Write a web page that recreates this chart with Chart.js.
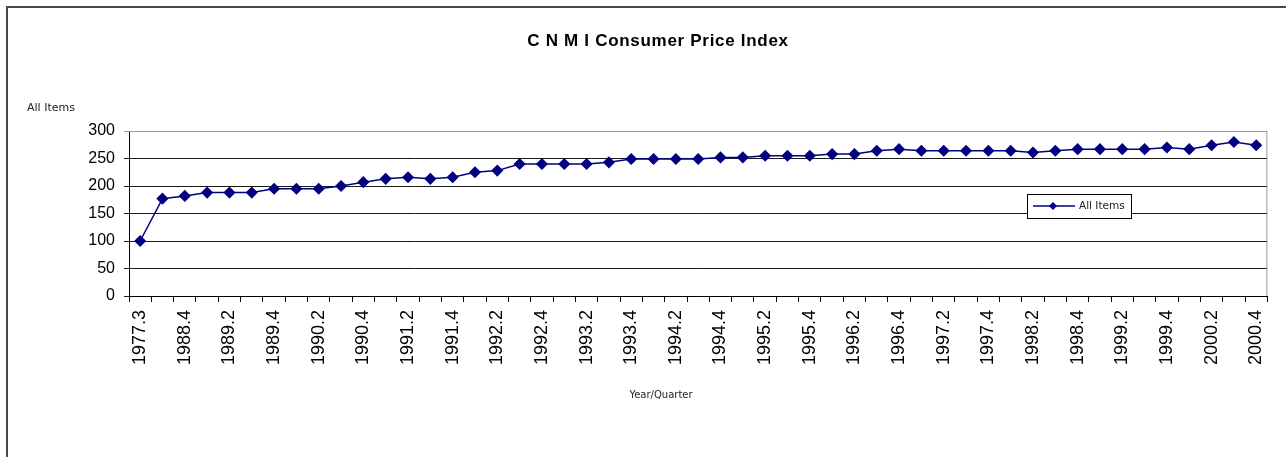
<!DOCTYPE html>
<html>
<head>
<meta charset="utf-8">
<script src="https://cdn.jsdelivr.net/npm/chart.js@4/dist/chart.umd.min.js"></script>
<style>
  html, body { margin: 0; padding: 0; background: #fff; }
  #wrap { position: relative; width: 1286px; height: 457px; overflow: hidden; }
  #frame { position: absolute; left: 6px; top: 6px; width: 1300px; height: 470px;
           border-left: 2px solid #4a4a4a; border-top: 2px solid #4a4a4a; }
  canvas { position: absolute; left: 0; top: 0; }
</style>
</head>
<body>
<div id="wrap">
  <div id="frame"></div>
  <canvas id="cpi" width="1286" height="457"></canvas>
</div>
<script>
// Data
const quarters = [
  '1977.3', '1988.3', '1988.4',
  '1989.1', '1989.2', '1989.3', '1989.4',
  '1990.1', '1990.2', '1990.3', '1990.4',
  '1991.1', '1991.2', '1991.3', '1991.4',
  '1992.1', '1992.2', '1992.3', '1992.4',
  '1993.1', '1993.2', '1993.3', '1993.4',
  '1994.1', '1994.2', '1994.3', '1994.4',
  '1995.1', '1995.2', '1995.3', '1995.4',
  '1996.1', '1996.2', '1996.3', '1996.4',
  '1997.1', '1997.2', '1997.3', '1997.4',
  '1998.1', '1998.2', '1998.3', '1998.4',
  '1999.1', '1999.2', '1999.3', '1999.4',
  '2000.1', '2000.2', '2000.3', '2000.4'
];
const allItems = [
  100, 177, 182, 188, 188, 188, 195, 195, 195, 200, 207,
  213, 216, 213, 216, 225, 228, 240, 240, 240, 240,
  243, 249, 249, 249, 249, 252, 252, 255, 255, 255,
  258, 258, 264, 267, 264, 264, 264, 264, 264, 261,
  264, 267, 267, 267, 267, 270, 267, 274, 280, 274
];
const yTicks = [0, 50, 100, 150, 200, 250, 300];

const chartTitle = 'C N M I Consumer Price Index';
const yTitle = 'All Items';
const xTitle = 'Year/Quarter';
const seriesName = 'All Items';

const navy = '#000080';
const arial = '"Liberation Sans", Arial, sans-serif';
const small = '"DejaVu Sans", Verdana, sans-serif';

// Texts, plot frame and legend drawn like the Excel original
const decorations = {
  id: 'decorations',
  afterDraw(chart) {
    const { ctx, chartArea: a } = chart;
    ctx.save();
    // plot area frame (top + right, grey)
    ctx.strokeStyle = '#9a9a9a';
    ctx.lineWidth = 1;
    ctx.beginPath();
    ctx.moveTo(a.left, a.top + 0.5);
    ctx.lineTo(a.right - 0.5, a.top + 0.5);
    ctx.lineTo(a.right - 0.5, a.bottom);
    ctx.stroke();

    ctx.fillStyle = '#000';
    ctx.textAlign = 'center';
    ctx.textBaseline = 'alphabetic';
    ctx.font = 'bold 17px ' + arial;
    ctx.letterSpacing = '0.7px';
    ctx.fillText(chartTitle, 658, 46);
    ctx.letterSpacing = '0px';

    ctx.fillStyle = '#222';
    ctx.font = '11px ' + small;
    ctx.textAlign = 'left';
    ctx.fillText(yTitle, 27, 111);
    ctx.font = '10px ' + small;
    ctx.textAlign = 'center';
    ctx.fillText(xTitle, 661, 398);

    // legend
    const lx = 1027, ly = 194, lw = 104, lh = 24;
    ctx.fillStyle = '#fff';
    ctx.fillRect(lx, ly, lw, lh);
    ctx.strokeStyle = '#000';
    ctx.lineWidth = 1;
    ctx.strokeRect(lx + 0.5, ly + 0.5, lw, lh);
    const my = ly + lh / 2;
    ctx.strokeStyle = navy;
    ctx.lineWidth = 1.5;
    ctx.beginPath();
    ctx.moveTo(lx + 6, my);
    ctx.lineTo(lx + 48, my);
    ctx.stroke();
    ctx.fillStyle = navy;
    ctx.beginPath();
    ctx.moveTo(lx + 26, my - 4);
    ctx.lineTo(lx + 30, my);
    ctx.lineTo(lx + 26, my + 4);
    ctx.lineTo(lx + 22, my);
    ctx.closePath();
    ctx.fill();
    ctx.fillStyle = '#222';
    ctx.textAlign = 'left';
    ctx.textBaseline = 'middle';
    ctx.font = '10.5px ' + small;
    ctx.fillText(seriesName, lx + 52, my);
    ctx.restore();
  }
};

new Chart(document.getElementById('cpi'), {
  type: 'line',
  data: {
    labels: quarters,
    datasets: [{
      label: seriesName,
      data: allItems,
      borderColor: navy,
      backgroundColor: navy,
      borderWidth: 1.5,
      pointStyle: 'rectRot',
      pointRadius: 5,
      pointBackgroundColor: navy,
      pointBorderColor: navy,
      tension: 0
    }]
  },
  options: {
    responsive: false,
    animation: false,
    layout: { padding: { left: 0, top: 131, right: 18, bottom: 0 } },
    plugins: {
      legend: { display: false },
      title: { display: false },
      tooltip: { enabled: false }
    },
    scales: {
      x: {
        offset: true,
        grid: { offset: true, drawOnChartArea: false, tickLength: 6, color: '#000' },
        border: { color: '#000', width: 1 },
        ticks: {
          autoSkip: false,
          maxRotation: 90,
          minRotation: 90,
          padding: 8,
          color: '#000',
          font: { family: arial, size: 18 },
          callback: (v, i) => (i % 2 === 0 ? quarters[i] : '')
        },
        afterFit(scale) { scale.height = 161; }
      },
      y: {
        min: 0,
        max: 300,
        afterBuildTicks(scale) { scale.ticks = yTicks.map(v => ({ value: v })); },
        grid: {
          tickLength: 5,
          color: ctx => (ctx.tick && ctx.tick.value === 300 ? '#9a9a9a' : '#1a1a1a'),
          lineWidth: 1
        },
        border: { color: '#000', width: 1 },
        ticks: { color: '#000', font: { family: arial, size: 16 }, padding: 9 },
        afterFit(scale) { scale.width = 129; }
      }
    }
  },
  plugins: [decorations]
});
</script>
</body>
</html>
